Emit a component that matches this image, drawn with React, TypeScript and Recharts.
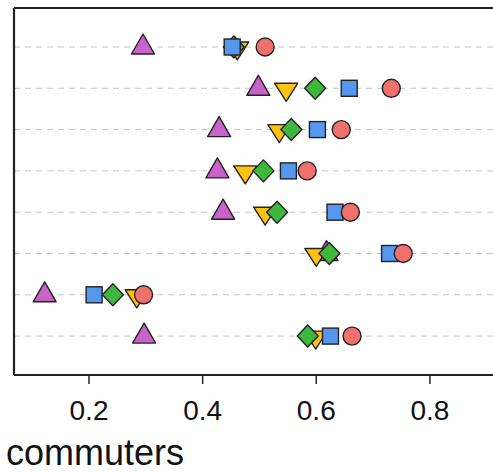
import React from "react";
import { ScatterChart, Scatter, XAxis, YAxis, ReferenceLine, Label } from "recharts";

const rows = [1, 2, 3, 4, 5, 6, 7, 8];
const purpleVals = [0.295, 0.498, 0.429, 0.426, 0.436, 0.618, 0.122, 0.297];
const orangeVals = [0.461, 0.547, 0.535, 0.475, 0.51, 0.6, 0.284, 0.599];
const greenVals = [0.455, 0.598, 0.556, 0.507, 0.531, 0.623, 0.242, 0.585];
const blueVals = [0.452, 0.658, 0.602, 0.551, 0.633, 0.729, 0.209, 0.625];
const redVals = [0.51, 0.732, 0.644, 0.584, 0.66, 0.753, 0.296, 0.663];
const xTicks = [0.2, 0.4, 0.6, 0.8];
const xLabel = "commuters";
const xDomain = [0.068, 0.948];
const yDomain = [0.056, 8.942];

const FONT = "'Liberation Sans', Arial, Helvetica, sans-serif";
const STROKE = "#222";

type Kind = "up" | "down" | "diamond" | "square" | "circle";

function Marker({ kind, cx, cy, fill }: { kind: Kind; cx: number; cy: number; fill: string }) {
  if (cx == null || cy == null) return null;
  const sw = 1.4;
  if (kind === "up") {
    const p = `${cx},${cy - 13} ${cx + 11.5},${cy + 7} ${cx - 11.5},${cy + 7}`;
    return <polygon points={p} fill={fill} stroke={STROKE} strokeWidth={sw} strokeLinejoin="round" />;
  }
  if (kind === "down") {
    const p = `${cx - 11.5},${cy - 5} ${cx + 11.5},${cy - 5} ${cx},${cy + 13}`;
    return <polygon points={p} fill={fill} stroke={STROKE} strokeWidth={sw} strokeLinejoin="round" />;
  }
  if (kind === "diamond") {
    const p = `${cx},${cy - 11} ${cx + 10.5},${cy} ${cx},${cy + 11} ${cx - 10.5},${cy}`;
    return <polygon points={p} fill={fill} stroke={STROKE} strokeWidth={sw} strokeLinejoin="round" />;
  }
  if (kind === "square") {
    return <rect x={cx - 8} y={cy - 8} width={16} height={16} fill={fill} stroke={STROKE} strokeWidth={sw} />;
  }
  return <circle cx={cx} cy={cy} r={9} fill={fill} stroke={STROKE} strokeWidth={sw} />;
}

const series: { name: string; vals: number[]; kind: Kind; fill: string }[] = [
  { name: "purple", vals: purpleVals, kind: "up", fill: "#C962C9" },
  { name: "orange", vals: orangeVals, kind: "down", fill: "#FFC20E" },
  { name: "green", vals: greenVals, kind: "diamond", fill: "#3DB83D" },
  { name: "blue", vals: blueVals, kind: "square", fill: "#5596EE" },
  { name: "red", vals: redVals, kind: "circle", fill: "#F0706C" },
];

export default function App() {
  return (
    <div style={{ position: "absolute", left: 0, top: 0, width: 493, height: 472, overflow: "hidden", background: "#fff" }}>
      <ScatterChart width={514} height={472} margin={{ top: 8, right: 0, bottom: 0, left: 14 }}>
        <XAxis
          type="number"
          dataKey="x"
          domain={xDomain}
          ticks={xTicks}
          allowDataOverflow
          height={97}
          tickSize={9}
          tickMargin={16}
          axisLine={{ stroke: STROKE, strokeWidth: 2.2 }}
          tickLine={{ stroke: STROKE, strokeWidth: 1.5 }}
          tick={{ fill: "#111", fontSize: 28, fontFamily: FONT }}
          tickFormatter={(v: number) => v.toFixed(1)}
        >
          <Label
            content={() => (
              <text x={6} y={465} fontSize={36} fontFamily={FONT} fill="#111">
                {xLabel}
              </text>
            )}
          />
        </XAxis>
        <YAxis type="number" dataKey="y" domain={yDomain} reversed allowDataOverflow hide />
        {rows.map((r) => (
          <ReferenceLine key={r} y={r} stroke="#c4c4c4" strokeWidth={1} strokeDasharray="6 5" />
        ))}
        <ReferenceLine y={yDomain[0]} stroke={STROKE} strokeWidth={2.2} ifOverflow="visible" />
        <ReferenceLine x={xDomain[0]} stroke={STROKE} strokeWidth={2.2} ifOverflow="visible" />
        {series.map((s) => (
          <Scatter
            key={s.name}
            name={s.name}
            data={rows.map((r, i) => ({ x: s.vals[i], y: r }))}
            isAnimationActive={false}
            shape={(p: any) => <Marker kind={s.kind} cx={p.cx} cy={p.cy} fill={s.fill} />}
          />
        ))}
      </ScatterChart>
    </div>
  );
}
